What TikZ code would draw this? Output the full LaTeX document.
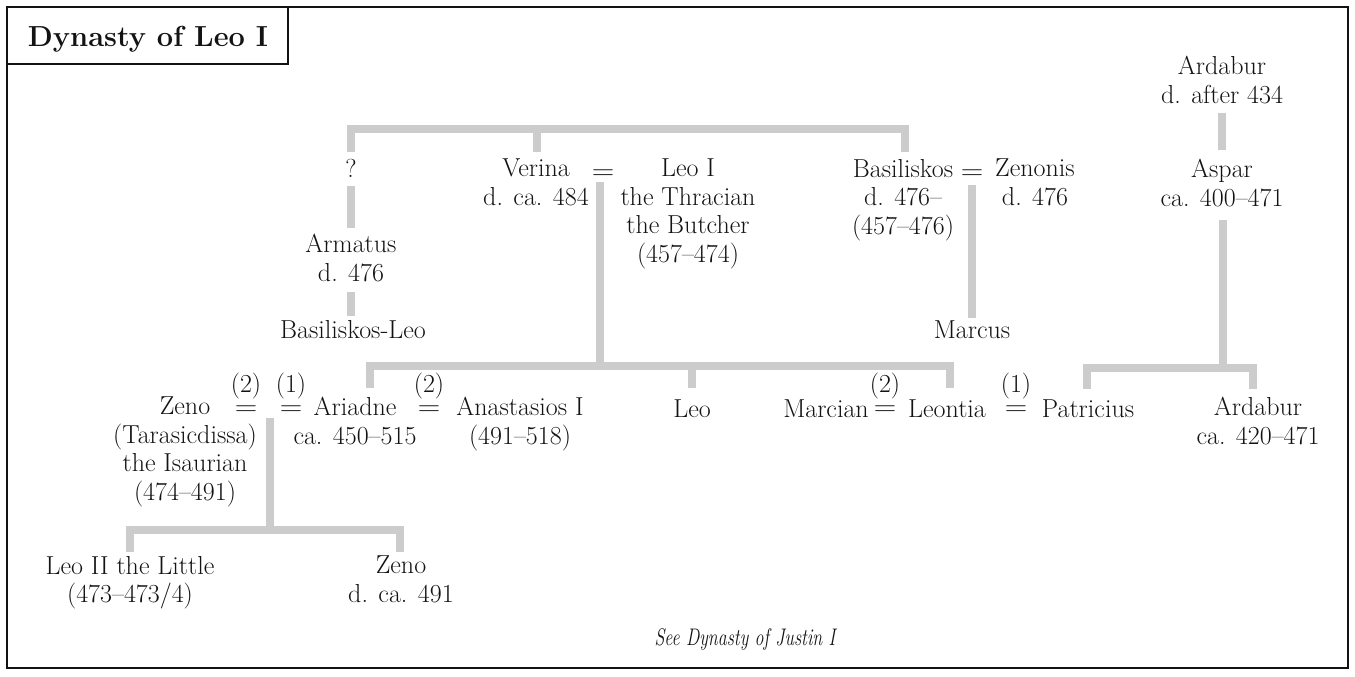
\documentclass[tikz,border=0pt]{standalone}
\usepackage{graphicx}
\definecolor{linegrey}{RGB}{204,204,204}
\definecolor{ink}{RGB}{20,18,18}
\newcommand\pfont{\fontsize{26}{28.5}\selectfont}
\newcommand\weq{\scalebox{1.2}[1.05]{=}}
\begin{document}
\begin{tikzpicture}[x=1pt,y=-1pt,
  gl/.style={draw=linegrey,line width=7.5pt,line join=miter},
  per/.style={anchor=north,inner sep=0pt,align=center,font=\pfont,text=ink,execute at begin node=\strut},
  eqs/.style={anchor=base,inner sep=0pt,font=\pfont,text=ink},
  lab/.style={anchor=base,inner sep=0pt,font=\pfont,text=ink}]
\useasboundingbox (0,0) rectangle (1355,677);
% frame and title
\draw[ink,line width=2pt] (7,7) rectangle (1348,668);
\draw[ink,line width=1.3pt] (7,7) rectangle (288,64);
\node[anchor=base,inner sep=0pt,text=ink,font=\bfseries\fontsize{29}{32}\selectfont] (title) at (148,47) {Dynasty of Leo I};
% people
\node[per] (q) at (351,157) {?};
\node[per] (armatus) at (351,234) {Armatus\\d. 476};
\node[per] (basleo) at (353,318) {Basiliskos-Leo};
\node[per] (verina) at (536,159) {Verina\\d. ca. 484};
\node[eqs] (m1) at (603,179) {\weq};
\node[per] (leo1) at (688,159) {Leo I\\the Thracian\\the Butcher\\(457--474)};
\node[per] (basil) at (903,159) {Basiliskos\\d. 476--\\(457--476)};
\node[eqs] (m2) at (972,179) {\weq};
\node[per] (zenonis) at (1035,159) {Zenonis\\d. 476};
\node[per] (ardabur1) at (1222,56) {Ardabur\\d. after 434};
\node[per] (aspar) at (1222,159) {Aspar\\ca. 400--471};
\node[per] (marcus) at (972,318) {Marcus};
\node[per] (zeno) at (185,397) {Zeno\\(Tarasicdissa)\\the Isaurian\\(474--491)};
\node[lab] (l1) at (246,392) {(2)};
\node[eqs] (m3) at (246,415) {\weq};
\node[lab] (l2) at (291,392) {(1)};
\node[eqs] (m4) at (291,415) {\weq};
\node[per] (ariadne) at (355,397) {Ariadne\\ca. 450--515};
\node[lab] (l3) at (429,392) {(2)};
\node[eqs] (m5) at (429,415) {\weq};
\node[per] (anast) at (520,397) {Anastasios I\\(491--518)};
\node[per] (leo) at (692,397) {Leo};
\node[per] (marcian) at (826,397) {Marcian};
\node[lab] (l4) at (885,392) {(2)};
\node[eqs] (m6) at (885,415) {\weq};
\node[per] (leontia) at (947,397) {Leontia};
\node[lab] (l5) at (1016,392) {(1)};
\node[eqs] (m7) at (1016,415) {\weq};
\node[per] (patricius) at (1088,397) {Patricius};
\node[per] (ardabur2) at (1258,397) {Ardabur\\ca. 420--471};
\node[per] (leo2) at (130,556) {Leo II the Little\\(473--473/4)};
\node[per] (zeno2) at (401,556) {Zeno\\d. ca. 491};
\node[anchor=base,inner sep=0pt,text=ink,font=\itshape\fontsize{24}{28}\selectfont] (see) at (745,645) {\scalebox{0.75}[1]{See Dynasty of Justin I}};
% junction coordinates
\coordinate (tA) at (351,129); \coordinate (tB) at (537,129); \coordinate (tC) at (905,129);
\coordinate (tA2) at (351,152); \coordinate (tB2) at (537,152); \coordinate (tC2) at (905,152);
\coordinate (qa1) at (351,186); \coordinate (qa2) at (351,228);
\coordinate (ab1) at (351,292); \coordinate (ab2) at (351,316);
\coordinate (vl1) at (600,182); \coordinate (vl2) at (600,366);
\coordinate (cA) at (370,366); \coordinate (cB) at (692,366); \coordinate (cC) at (950,366);
\coordinate (cA2) at (370,388); \coordinate (cB2) at (692,388); \coordinate (cC2) at (950,388);
\coordinate (bz1) at (972,185); \coordinate (bz2) at (972,318);
\coordinate (aa1) at (1222,113); \coordinate (aa2) at (1222,150);
\coordinate (as1) at (1223,220); \coordinate (as2) at (1223,368);
\coordinate (pA) at (1087,368); \coordinate (pB) at (1253,368);
\coordinate (pA2) at (1087,389); \coordinate (pB2) at (1253,389);
\coordinate (za1) at (270,418); \coordinate (za2) at (270,530);
\coordinate (kA) at (130,530); \coordinate (kB) at (400,530);
\coordinate (kA2) at (130,552); \coordinate (kB2) at (400,552);
% connectors
\draw[gl] (tA2) -- (tA) -- (tC) -- (tC2);
\draw[gl] (tB) -- (tB2);
\draw[gl] (qa1) -- (qa2);
\draw[gl] (ab1) -- (ab2);
\draw[gl] (vl1) -- (vl2);
\draw[gl] (cA2) -- (cA) -- (cC) -- (cC2);
\draw[gl] (cB) -- (cB2);
\draw[gl] (bz1) -- (bz2);
\draw[gl] (aa1) -- (aa2);
\draw[gl] (as1) -- (as2);
\draw[gl] (pA2) -- (pA) -- (pB) -- (pB2);
\draw[gl] (za1) -- (za2);
\draw[gl] (kA2) -- (kA) -- (kB) -- (kB2);
\end{tikzpicture}
\end{document}
